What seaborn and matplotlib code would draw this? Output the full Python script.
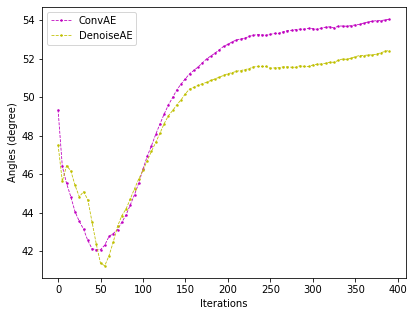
import numpy as np
import pandas as pd
import seaborn as sns
import matplotlib
matplotlib.use('Agg')
import matplotlib.pyplot as plt

# iterations 0..390, step 5
iterations = list(range(0, 395, 5))

conv_ae = [49.36, 46.42, 45.53, 44.84, 44.06, 43.56, 43.16, 42.57, 42.14, 42.09,
           42.09, 42.33, 42.78, 42.93, 43.13, 43.51, 43.89, 44.41, 44.95, 45.55,
           46.28, 46.94, 47.49, 48.08, 48.62, 49.14, 49.61, 50.00, 50.40, 50.70,
           50.97, 51.23, 51.40, 51.58, 51.79, 52.00, 52.15, 52.30, 52.47, 52.65,
           52.75, 52.88, 52.98, 53.03, 53.07, 53.17, 53.22, 53.26, 53.24, 53.22,
           53.27, 53.32, 53.32, 53.40, 53.46, 53.48, 53.52, 53.54, 53.54, 53.58,
           53.57, 53.53, 53.60, 53.64, 53.66, 53.60, 53.70, 53.70, 53.69, 53.72,
           53.76, 53.78, 53.86, 53.91, 53.95, 53.98, 53.98, 54.02, 54.05]

denoise_ae = [47.54, 45.64, 46.45, 46.19, 45.43, 44.84, 45.10, 44.69, 43.53, 42.38,
              41.38, 41.26, 41.78, 42.49, 43.30, 43.85, 44.20, 44.72, 45.26, 45.76,
              46.21, 46.71, 47.20, 47.66, 48.14, 48.64, 49.05, 49.32, 49.62, 49.88,
              50.19, 50.44, 50.52, 50.62, 50.71, 50.78, 50.88, 50.96, 51.05, 51.14,
              51.23, 51.28, 51.35, 51.39, 51.44, 51.49, 51.58, 51.60, 51.60, 51.60,
              51.51, 51.53, 51.54, 51.58, 51.58, 51.56, 51.56, 51.64, 51.60, 51.60,
              51.68, 51.72, 51.73, 51.77, 51.82, 51.82, 51.92, 51.99, 51.97, 52.03,
              52.11, 52.17, 52.17, 52.20, 52.20, 52.24, 52.31, 52.39, 52.43]

fig, ax = plt.subplots(figsize=(415 / 72, 317 / 72), dpi=72)
fig.subplots_adjust(left=0.1, right=0.978, top=0.978, bottom=0.123)

sns.lineplot(x=iterations, y=conv_ae, ax=ax, color='m', marker='.', markersize=5,
             markeredgewidth=0, linestyle='--', linewidth=0.8, label='ConvAE')
sns.lineplot(x=iterations, y=denoise_ae, ax=ax, color='y', marker='.', markersize=5,
             markeredgewidth=0, linestyle='--', linewidth=0.8, label='DenoiseAE')

ax.set_xlabel('Iterations')
ax.set_ylabel('Angles (degree)')
ax.legend(loc='upper left')

plt.savefig('out.png', dpi=72)
